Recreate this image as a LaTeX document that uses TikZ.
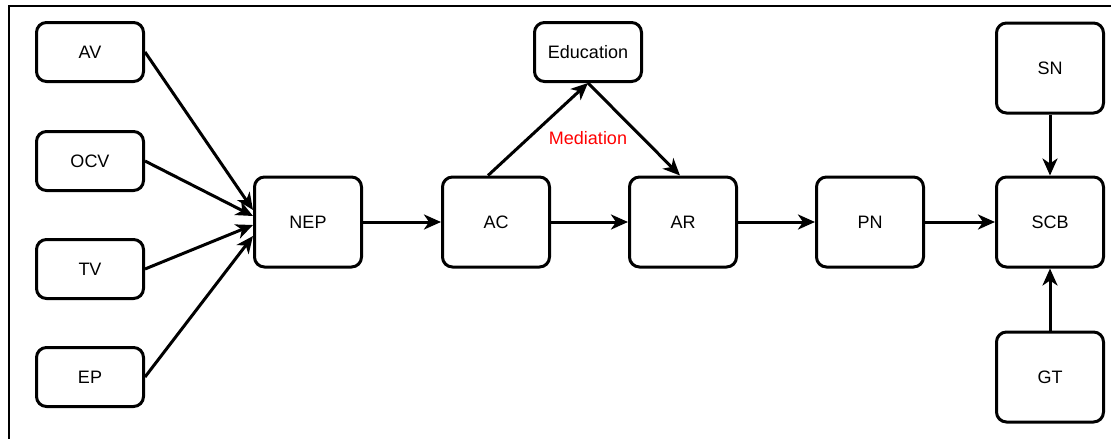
\documentclass[tikz,border=0pt]{standalone}
\usepackage{fontspec}
\setmainfont{Liberation Sans}
\usetikzlibrary{arrows.meta}

\begin{document}
\begin{tikzpicture}[x=1pt, y=-1pt,
    box/.style={draw, rounded corners=10pt, line width=3pt, minimum width=107pt,
                minimum height=59pt, font=\fontsize{18}{21}\selectfont},
    bigbox/.style={box, minimum height=90pt},
    flecha/.style={-{Stealth[length=17pt, width=15pt, inset=5pt]}, line width=3pt}]
    \useasboundingbox (0,0) rectangle (1111,439);
    \draw[line width=2pt] (9,439) -- (9,6) -- (1111,6);  % marco

    \node[box] (AV) at (90,52) {AV};
    \node[box] (OCV) at (90,161) {OCV};
    \node[box] (TV) at (90,269) {TV};
    \node[box] (EP) at (90,377) {EP};

    \node[bigbox] (NEP) at (308,222) {NEP};
    \node[bigbox] (AC) at (496,222) {AC};
    \node[box] (EDU) at (588,52) {Education};
    \node[bigbox] (AR) at (683,222) {AR};
    \node[bigbox] (PN) at (870,222) {PN};
    \node[bigbox] (SCB) at (1050,222) {SCB};
    \node[bigbox] (SN) at (1050,68) {SN};
    \node[bigbox] (GT) at (1050,377) {GT};

    \node[text=red, font=\fontsize{18}{21}\selectfont] (MED) at (588,138) {Mediation};

    \draw[flecha] (AV.east) -- ([yshift=12pt]NEP.west);
    \draw[flecha] (OCV.east) -- ([yshift=6pt]NEP.west);
    \draw[flecha] (TV.east) -- ([yshift=-3pt]NEP.west);
    \draw[flecha] (EP.east) -- ([yshift=-14pt]NEP.west);

    \draw[flecha] (NEP) -- (AC);
    \draw[flecha] (AC) -- (AR);
    \draw[flecha] ([xshift=-8pt]AC.north) -- (EDU.south);  % mediacion
    \draw[flecha] (EDU.south) -- ([xshift=-3pt]AR.north);
    \draw[flecha] (AR) -- (PN);
    \draw[flecha] (PN) -- (SCB);
    \draw[flecha] (SN) -- (SCB);
    \draw[flecha] (GT) -- (SCB);
\end{tikzpicture}
\end{document}
